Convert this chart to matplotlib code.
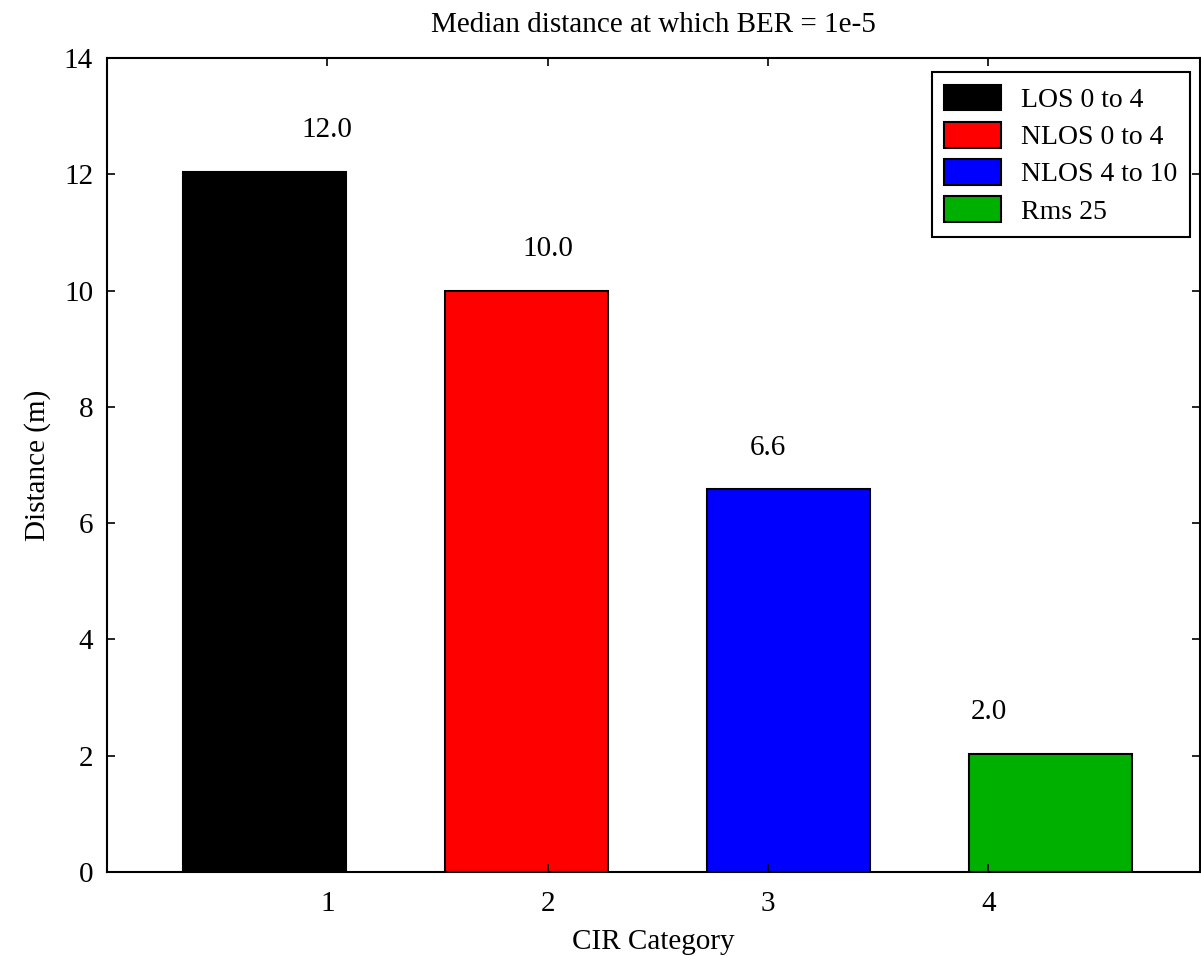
import matplotlib
matplotlib.use("Agg")
import matplotlib.pyplot as plt
import numpy as np

plt.rcParams['font.family'] = ['Liberation Serif', 'DejaVu Serif']

categories = ['1', '2', '3', '4']
series_names = ['LOS 0 to 4', 'NLOS 0 to 4', 'NLOS 4 to 10', 'Rms 25']
distances = [12.04, 10.0, 6.58, 2.03]
colors = ['#000000', '#ff0000', '#0000ff', '#00b000']

fig = plt.figure(figsize=(12.01, 9.56), dpi=100)
ax = fig.add_axes([0.0891, 0.0879, 0.9100, 0.8515])

# bars sit on a slightly wider spacing than the tick labels (as exported)
tick_pos = np.arange(1, len(categories) + 1)
bar_pos = tick_pos * 1.19 - 0.476

for i in range(len(distances)):
    ax.bar(bar_pos[i], distances[i], width=0.74, color=colors[i],
           edgecolor='black', linewidth=1.5, label=series_names[i])
    ax.text(tick_pos[i], distances[i] + 0.72, f"{distances[i]:.1f}",
            ha='center', va='center', fontsize=21)

ax.set_xlim(0, 4.96)
ax.set_ylim(0, 14)
ax.set_xticks(tick_pos, labels=categories)
ax.set_yticks(np.arange(0, 15, 2))
ax.tick_params(direction='in', top=True, right=True, length=6, width=1.2,
               labelsize=21)
ax.tick_params(axis='x', pad=14)
ax.tick_params(axis='y', pad=10)
for s in ax.spines.values():
    s.set_linewidth(1.5)

ax.set_title("Median distance at which BER = 1e-5", fontsize=21, pad=19)
ax.set_xlabel("CIR Category", fontsize=21, labelpad=8)
ax.set_ylabel("Distance (m)", fontsize=21, labelpad=9)

leg = ax.legend(loc='upper right', bbox_to_anchor=(1190 / 1201, 1 - 72 / 956),
                bbox_transform=fig.transFigure, fontsize=20, fancybox=False,
                edgecolor='black', framealpha=1, borderaxespad=0,
                handlelength=2.05, handleheight=1.05, labelspacing=0.32,
                handletextpad=0.72, borderpad=0.45)
leg.get_frame().set_linewidth(1.5)

plt.savefig("out.png", dpi=100)
